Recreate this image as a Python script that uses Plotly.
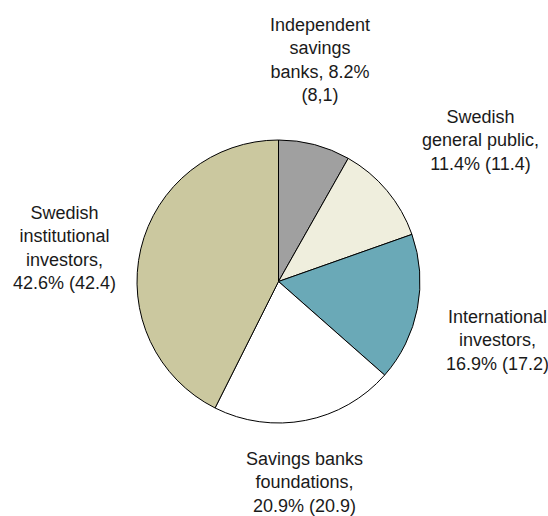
import plotly.graph_objects as go

# Ownership structure, share of capital in percent (previous year in brackets)
owners = [
    "Independent savings banks",
    "Swedish general public",
    "International investors",
    "Savings banks foundations",
    "Swedish institutional investors",
]
share = [8.2, 11.4, 16.9, 20.9, 42.6]
prev_share = ["8,1", "11.4", "17.2", "20.9", "42.4"]
label_templates = [
    "Independent<br>savings<br>banks, {p}%<br>({q})",
    "Swedish<br>general public,<br>{p}% ({q})",
    "International<br>investors,<br>{p}% ({q})",
    "Savings banks<br>foundations,<br>{p}% ({q})",
    "Swedish<br>institutional<br>investors,<br>{p}% ({q})",
]
colors = ["#a0a0a0", "#efeedd", "#6aa9b7", "#ffffff", "#cbc89f"]

W, H = 548, 516

fig = go.Figure(
    go.Pie(
        labels=owners,
        values=share,
        sort=False,
        direction="clockwise",
        rotation=0,
        marker=dict(colors=colors, line=dict(color="#000000", width=1)),
        textinfo="none",
        hoverinfo="label+percent",
        showlegend=False,
        domain=dict(x=[137 / W, 420 / W], y=[(H - 423) / H, (H - 140) / H]),
    )
)

# label anchor points (pixel centres of each text block)
label_pos = [(320, 60), (480, 140), (497, 340), (304, 482), (64, 248)]

for tmpl, p, q, (px, py) in zip(label_templates, share, prev_share, label_pos):
    fig.add_annotation(
        text=tmpl.format(p=p, q=q),
        x=px / W,
        y=1 - py / H,
        xref="paper",
        yref="paper",
        xanchor="center",
        yanchor="middle",
        align="center",
        showarrow=False,
        font=dict(family="Arial, Liberation Sans, sans-serif", size=18, color="#1a1a1a"),
    )

fig.update_layout(
    width=W,
    height=H,
    margin=dict(l=0, r=0, t=0, b=0),
    paper_bgcolor="#ffffff",
    plot_bgcolor="#ffffff",
)

fig.write_html("out.html")
